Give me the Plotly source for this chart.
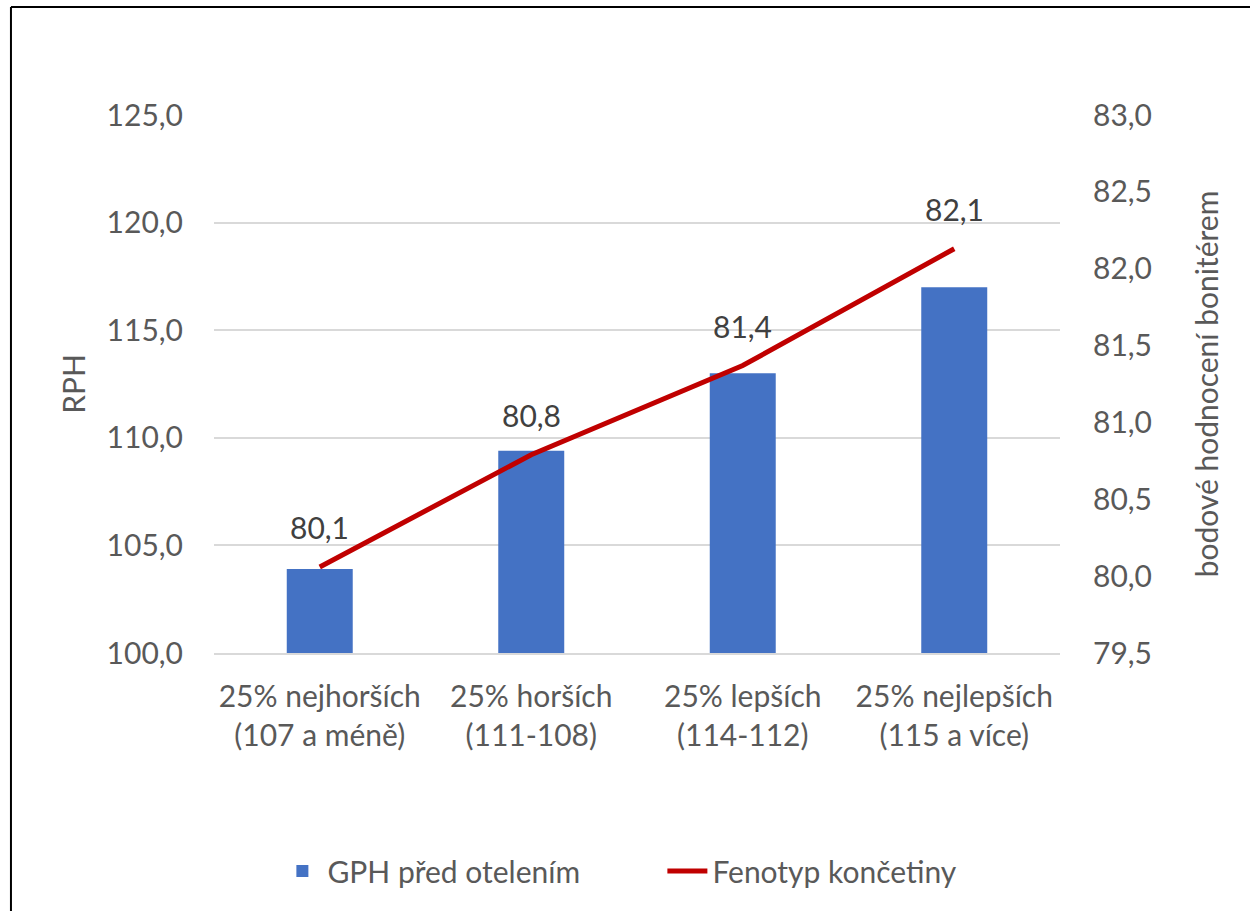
import plotly.graph_objects as go

# Category groups (RPH quartiles)
categories = [
    "25% nejhorších<br>(107 a méně)",
    "25% horších<br>(111-108)",
    "25% lepších<br>(114-112)",
    "25% nejlepších<br>(115 a více)",
]

# GPH před otelením (left axis, RPH)
gph_values = [103.9, 109.4, 113.0, 117.0]

# Fenotyp končetiny (right axis, bodové hodnocení)
fenotyp_values = [80.06, 80.79, 81.37, 82.13]

left_ticks = [100, 105, 110, 115, 120, 125]
right_ticks = [79.5, 80.0, 80.5, 81.0, 81.5, 82.0, 82.5, 83.0]

FONT = "Lato"
TICK_COLOR = "#595959"
LABEL_COLOR = "#404040"
GRID = "#D9D9D9"

fig = go.Figure()

fig.add_trace(go.Bar(
    x=categories,
    y=gph_values,
    name="GPH před otelením",
    marker=dict(color="#4472C4", line=dict(width=0)),
    yaxis="y",
))

fig.add_trace(go.Scatter(
    x=categories,
    y=fenotyp_values,
    name="Fenotyp končetiny",
    mode="lines",
    line=dict(color="#C00000", width=5),
    yaxis="y2",
))

# Value labels above the line points
for cat, val in zip(categories, fenotyp_values):
    fig.add_annotation(
        x=cat, y=val, xref="x", yref="y2",
        text=f"{val:.1f}".replace(".", ","),
        showarrow=False, yshift=40,
        font=dict(family=FONT, size=30, color=LABEL_COLOR),
    )

# Chart frame (top and left edges)
fig.add_shape(type="line", xref="paper", yref="paper",
              x0=-0.24, x1=1.25, y0=1.2007, y1=1.2007,
              line=dict(color="black", width=2))
fig.add_shape(type="line", xref="paper", yref="paper",
              x0=-0.24, x1=-0.24, y0=1.2007, y1=-0.5,
              line=dict(color="black", width=2))

fig.update_layout(
    width=1250,
    height=911,
    margin=dict(l=214, r=190, t=115, b=258),
    paper_bgcolor="white",
    plot_bgcolor="white",
    separators=", ",
    bargap=0.688,
    font=dict(family=FONT, size=30, color=TICK_COLOR),
    showlegend=True,
    legend=dict(
        orientation="h",
        x=0.53, xanchor="center",
        y=-0.405, yanchor="middle",
        font=dict(family=FONT, size=30, color=TICK_COLOR),
        itemwidth=40,
        entrywidth=330,
        traceorder="normal",
    ),
    xaxis=dict(
        type="category",
        showgrid=False,
        showline=True,
        linecolor=GRID,
        linewidth=1.5,
        ticks="",
        ticklabelstandoff=16,
        tickfont=dict(family=FONT, size=30, color=TICK_COLOR),
        automargin=False,
    ),
    yaxis=dict(
        range=[100, 125],
        tickvals=left_ticks,
        tickformat=".1f",
        showgrid=True,
        gridcolor=GRID,
        gridwidth=1.5,
        zeroline=False,
        ticks="",
        ticklabelstandoff=30,
        tickfont=dict(family=FONT, size=30, color=TICK_COLOR),
        title=dict(text="RPH", font=dict(family=FONT, size=30, color=TICK_COLOR), standoff=12),
        automargin=False,
    ),
    yaxis2=dict(
        range=[79.5, 83.0],
        tickvals=right_ticks,
        tickformat=".1f",
        overlaying="y",
        side="right",
        showgrid=False,
        zeroline=False,
        ticks="",
        ticklabelstandoff=32,
        tickfont=dict(family=FONT, size=30, color=TICK_COLOR),
        title=dict(text="bodové hodnocení bonitérem", font=dict(family=FONT, size=30, color=TICK_COLOR), standoff=45),
        automargin=False,
    ),
)

fig.write_html("out.html")
